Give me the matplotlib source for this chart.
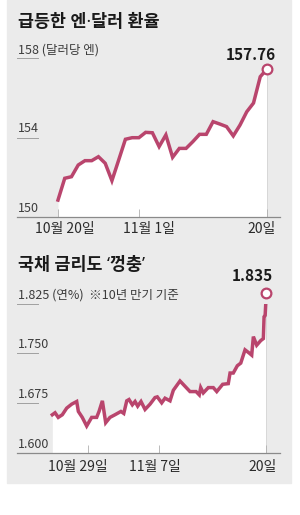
import matplotlib
matplotlib.use("Agg")
import matplotlib.pyplot as plt
from matplotlib.patches import Rectangle

plt.rcParams['font.family'] = ['Noto Sans CJK KR', 'DejaVu Sans']

# 엔·달러 환율, 10월 20일 ~ 11월 20일 (일별)
yen_day = list(range(32))
yen_rate = [150.84, 151.94, 152.02, 152.61, 152.83, 152.83, 153.03, 152.70,
            151.82, 152.86, 153.91, 153.99, 153.99, 154.26, 154.24, 153.54,
            154.13, 153.00, 153.45, 153.45, 153.79, 154.16, 154.16, 154.80,
            154.68, 154.55, 154.08, 154.63, 155.30, 155.74, 157.07, 157.46]
yen_last = "157.76"
yen_yticks = [150, 154, 158]
yen_ylabels = ["150", "154", "158 (달러당 엔)"]
yen_xticks = [0, 12, 31]
yen_xlabels = ["10월 20일", "11월 1일", "20일"]

# 일본 국채 10년물 금리 (거래일 기준 위치)
bond_t = [0.00, 0.23, 0.50, 0.84, 1.21, 1.63, 2.05, 2.19, 2.52, 2.89,
          3.31, 3.73, 3.93, 4.21, 4.49, 4.85, 5.27, 5.77, 6.01, 6.26,
          6.45, 6.73, 6.96, 7.18, 7.46, 7.80, 8.22, 8.64, 8.83, 9.20,
          9.48, 9.90, 10.18, 10.74, 11.16, 11.58, 12.09, 12.36, 12.48, 12.70,
          13.12, 13.54, 13.83, 14.33, 14.80, 14.95, 15.22, 15.56, 15.85, 16.21,
          16.57, 16.77, 16.91, 17.19, 17.53, 17.75, 17.81, 17.90, 18.00]
bond_rate = [1.657, 1.660, 1.653, 1.657, 1.667, 1.673, 1.677, 1.662, 1.653, 1.640,
             1.653, 1.653, 1.662, 1.678, 1.645, 1.653, 1.657, 1.662, 1.659, 1.678,
             1.680, 1.672, 1.677, 1.670, 1.677, 1.665, 1.673, 1.683, 1.684, 1.675,
             1.682, 1.678, 1.694, 1.708, 1.700, 1.692, 1.692, 1.687, 1.698, 1.690,
             1.698, 1.698, 1.692, 1.703, 1.704, 1.720, 1.720, 1.731, 1.735, 1.755,
             1.750, 1.747, 1.775, 1.762, 1.769, 1.772, 1.805, 1.807, 1.841]
bond_last = "1.835"
bond_yticks = [1.600, 1.675, 1.750, 1.825]
bond_ylabels = ["1.600", "1.675", "1.750", "1.825 (연%)  ※10년 만기 기준"]
bond_xticks = [3, 9, 18]
bond_xlabels = ["10월 29일", "11월 7일", "20일"]

LINE = "#b9456d"
W, H = 300, 515


def fx(x):
    return x / W


def fy(y):
    return 1 - y / H


fig = plt.figure(figsize=(W / 100, H / 100), dpi=100)
fig.add_artist(Rectangle((fx(7), fy(483)), fx(291) - fx(7), 483 / H,
                         transform=fig.transFigure, color="#ebebeb", zorder=-5))


def panel(top, bottom, x, y, xlim, yticks, ylabels, xticks, xlabels, label_dx, label_dy):
    ax = fig.add_axes([fx(17), fy(bottom), fx(280) - fx(17), (bottom - top) / H])
    ax.set_facecolor("none")
    ax.set_xlim(*xlim)
    ax.set_ylim(yticks[0], yticks[-1])
    for s in ["top", "right", "left"]:
        ax.spines[s].set_visible(False)
    ax.spines["bottom"].set_color("#8a8a8a")
    ax.spines["bottom"].set_linewidth(0.9)
    ax.set_yticks([])
    ax.set_xticks(xticks)
    ax.tick_params(axis="x", direction="in", length=6, width=0.6,
                   color="#b0b0b0", labelbottom=False)

    ax.fill_between(x, y, yticks[0], color="white", lw=0, zorder=1)
    ax.plot([x[-1], x[-1]], [yticks[0], y[-1]], color="#d2d2d2", lw=0.6, zorder=1)
    ax.plot(x, y, color=LINE, lw=2.5, solid_joinstyle="miter", zorder=3)
    ax.plot(x[-1], y[-1], "o", ms=7, mfc="white", mec=LINE, mew=1.6,
            clip_on=False, zorder=5)

    ytr = ax.get_yaxis_transform()
    for v, lab in zip(yticks, ylabels):
        if v != yticks[0]:
            ax.plot([0, 0.08], [v, v], color="#a0a0a0", lw=0.7, transform=ytr,
                    clip_on=False)
        ax.annotate(lab, xy=(0.004, v), xycoords=ytr, xytext=(0, 3.6),
                    textcoords="offset points", ha="left", va="baseline",
                    fontsize=9, color="#3c3c3c", annotation_clip=False)

    xtr = ax.get_xaxis_transform()
    for t, lab, dx in zip(xticks, xlabels, label_dx):
        ax.annotate(lab, xy=(t, 0), xycoords=xtr, xytext=(dx, -label_dy),
                    textcoords="offset points", ha="center", va="center",
                    fontsize=10, color="#2a2a2a", annotation_clip=False)
    return ax


panel(58.3, 216.7, yen_day, yen_rate, (-6.08, 32.93), yen_yticks, yen_ylabels,
      yen_xticks, yen_xlabels, [5, 7.2, -3.6], 8.6)
panel(303.5, 452.5, bond_t, bond_rate, (-2.97, 19.15), bond_yticks, bond_ylabels,
      bond_xticks, bond_xlabels, [-7.2, -3, -3], 10.4)

fig.text(fx(18), fy(22), "급등한 엔·달러 환율", fontsize=12.5, fontweight="bold",
         family=["Noto Sans", "Noto Sans CJK KR"],
         color="#1a1a1a", ha="left", va="center")
fig.text(fx(276), fy(55), yen_last, fontsize=11, fontweight="bold",
         color="#1a1a1a", ha="right", va="center")

fig.text(fx(18), fy(265), "국채 금리도 ‘껑충’", fontsize=12.5, fontweight="bold",
         family=["Noto Sans", "Noto Sans CJK KR"],
         color="#1a1a1a", ha="left", va="center")
fig.text(fx(273), fy(276), bond_last, fontsize=11, fontweight="bold",
         color="#1a1a1a", ha="right", va="center")

fig.savefig("out.png", dpi=100, facecolor="white")
